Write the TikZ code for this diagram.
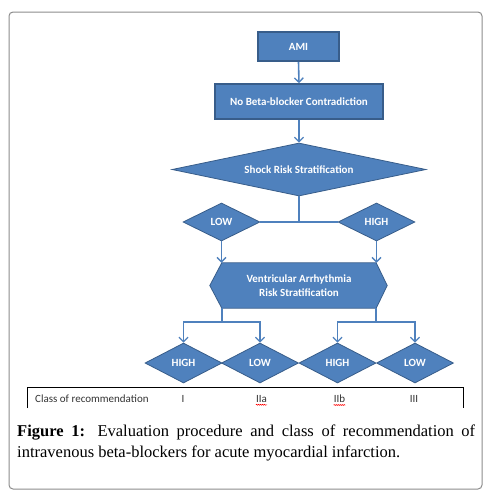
\documentclass[tikz,border=0pt]{standalone}
\usepackage{fontspec}
\setmainfont{Liberation Serif}
\newfontfamily\calib{Carlito}
\usetikzlibrary{shapes.geometric,arrows.meta,calc,decorations.pathmorphing}
\definecolor{ofblue}{HTML}{4F81BD}
\definecolor{ofdark}{HTML}{385D8A}
\definecolor{framegray}{HTML}{8C8C8C}
\definecolor{tabtxt}{HTML}{333333}
\tikzset{
  boxst/.style={draw=ofdark, line width=1.6pt, fill=ofblue, text=white, font=\calib\bfseries\fontsize{11}{12}\selectfont, inner sep=0pt},
  diast/.style={diamond, draw=ofdark, line width=0.8pt, fill=ofblue, text=white, font=\calib\bfseries\fontsize{11}{12}\selectfont, inner sep=0pt},
  conn/.style={draw=ofblue, line width=1.6pt},
  arr/.style={conn, -{Straight Barb[length=4.5pt,width=9pt,line width=1.3pt]}},
  tabtext/.style={text=tabtxt, font=\calib\fontsize{11}{13}\selectfont, inner sep=0pt},
  squig/.style={draw=red, line width=0.5pt, decorate, decoration={snake, amplitude=0.5pt, segment length=2pt}}
}
\begin{document}
\begin{tikzpicture}[x=1pt,y=-1pt]
\useasboundingbox (0,0) rectangle (494,496);
\draw[framegray, line width=1pt, rounded corners=4pt] (9,12) rectangle (482,489);

% top boxes
\node[boxst, minimum width=81pt, minimum height=29pt] (ami) at (298.5,46.5) {AMI};
\node[boxst, minimum width=168pt, minimum height=35pt] (nobeta) at (299,101.5) {No Beta-blocker Contradiction};
\node[diast, minimum width=254pt, minimum height=53pt, shape aspect=4.8] (shock) at (299,169.5) {Shock Risk Stratification};

\draw[arr] (ami.south) -- (nobeta.north);
\draw[arr] (nobeta.south) -- (shock.north);

% level 2 diamonds
\node[diast, minimum width=77pt, minimum height=38pt, shape aspect=2] (low1) at (221.5,222) {LOW};
\node[diast, minimum width=77pt, minimum height=38pt, shape aspect=2] (high1) at (376.5,222) {HIGH};
\draw[conn] (shock.south) -- (shock.south |- low1.east);
\draw[conn] (low1.east) -- (high1.west);

% hexagon
\path node[minimum width=154pt, minimum height=45pt, inner sep=0pt] (va) at (299,285.5) {};
\draw[draw=ofdark, line width=0.8pt, fill=ofblue]
  (va.north west) -- (va.north east) -- ($(va.east)+(11,0)$) -- (va.south east)
  -- (va.south west) -- ($(va.west)+(-12,0)$) -- cycle;
\node[text=white, font=\calib\bfseries\fontsize{11}{14}\selectfont, align=center, inner sep=0pt] (vatext) at (va.center) {Ventricular Arrhythmia\\Risk Stratification};

\draw[arr] (low1.south) -- (low1.south |- va.north);
\draw[arr] (high1.south) -- (high1.south |- va.north);

% bottom diamonds
\node[diast, minimum width=77pt, minimum height=40pt, shape aspect=2] (h1) at (183.5,363) {HIGH};
\node[diast, minimum width=77pt, minimum height=40pt, shape aspect=2] (l1) at (260,363) {LOW};
\node[diast, minimum width=77pt, minimum height=40pt, shape aspect=2] (h2) at (337.5,363) {HIGH};
\node[diast, minimum width=77pt, minimum height=40pt, shape aspect=2] (l2) at (415,363) {LOW};

\coordinate (bl) at ($(va.south west)+(0,14)$);
\coordinate (br) at ($(va.south east)+(0,14)$);
\draw[conn] (va.south west) -- (bl);
\draw[conn] (va.south east) -- (br);
\draw[arr] (bl) -| (h1.north);
\draw[arr] (bl) -| (l1.north);
\draw[arr] (br) -| (h2.north);
\draw[arr] (br) -| (l2.north);

% table
\draw[black, line width=0.9pt] (27,408) -- (27,387) -- (463,387) -- (463,408);
\node[tabtext, anchor=west] (cls) at (35,399) {Class of recommendation};
\node[tabtext] (c1) at (183,399) {I};
\node[tabtext] (c2) at (261.5,399) {IIa};
\node[tabtext] (c3) at (339.5,399) {IIb};
\node[tabtext] (c4) at (414,399) {III};
\draw[squig] ($(c2.south west)+(0,2)$) -- ($(c2.south east)+(0,2)$);
\draw[squig] ($(c3.south west)+(0,2)$) -- ($(c3.south east)+(0,2)$);

% caption
\node[anchor=north west, inner sep=0pt, text width=458pt, align=justify, font=\fontsize{16.5}{21}\selectfont] (cap) at (17,425)
 {\textbf{Figure 1:} Evaluation procedure and class of recommendation of\linebreak intravenous beta-blockers for acute myocardial infarction.};
\end{tikzpicture}
\end{document}
